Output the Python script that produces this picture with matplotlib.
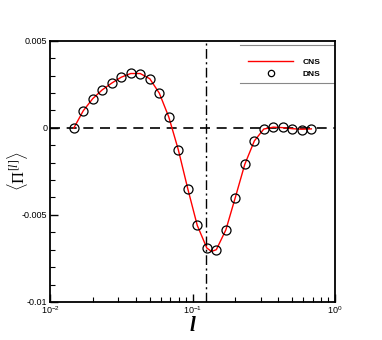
import matplotlib
matplotlib.use("Agg")
import matplotlib.pyplot as plt
from matplotlib.ticker import FixedLocator, LogLocator, NullFormatter

plt.rcParams['font.family'] = ['Liberation Sans', 'DejaVu Sans']
plt.rcParams['mathtext.fontset'] = 'custom'
plt.rcParams['mathtext.rm'] = 'Liberation Serif'
plt.rcParams['mathtext.it'] = 'Liberation Serif:italic'

# DNS samples
l_dns = [0.01466, 0.01710, 0.01995, 0.02323, 0.02710, 0.03162, 0.03683, 0.04295,
         0.05012, 0.05848, 0.06808, 0.07943, 0.09268, 0.1079, 0.1259, 0.1469,
         0.1714, 0.1995, 0.2328, 0.2716, 0.3162, 0.3690, 0.4305, 0.5023,
         0.5848, 0.6823]
pi_dns = [-0.00002, 0.00098, 0.00168, 0.00218, 0.00257, 0.00291, 0.00314, 0.00312,
          0.00280, 0.00199, 0.00063, -0.00125, -0.00351, -0.00559, -0.00688, -0.00699,
          -0.00586, -0.00401, -0.00209, -0.00075, -0.00007, 0.00007, 0.00002, -0.00006,
          -0.00010, -0.00006]

# CNS curve
l_cns = [0.01466, 0.01710, 0.01995, 0.02323, 0.02710, 0.03162, 0.03683, 0.04295,
         0.05012, 0.05848, 0.06808, 0.07943, 0.09268, 0.1079, 0.1259, 0.1358, 0.1469,
         0.1714, 0.1995, 0.2328, 0.2716, 0.3162, 0.3690, 0.4305, 0.5023,
         0.5848, 0.6823]
pi_cns = [-0.00002, 0.00098, 0.00168, 0.00218, 0.00257, 0.00291, 0.00312, 0.00312,
          0.00282, 0.00199, 0.00063, -0.00125, -0.00351, -0.00560, -0.00690, -0.00710, -0.00700,
          -0.00586, -0.00401, -0.00209, -0.00075, -0.00007, 0.00004, 0.00001, -0.00005,
          -0.00008, -0.00006]

l_marker = 0.1253
xlim = (0.01, 1.0)
ylim = (-0.01, 0.005)
yticks = [-0.01, -0.005, 0, 0.005]
ytick_labels = ['-0.01', '-0.005', '0', '0.005']

fig = plt.figure(figsize=(3.82, 3.40), dpi=100)
ax = fig.add_axes([0.131, 0.112, 0.746, 0.768])

ax.axhline(0, color='black', lw=1.2, ls=(0, (6, 4)), zorder=1)
ax.axvline(l_marker, color='black', lw=1.0, ls=(0, (7, 2.5, 1.5, 2.5)), zorder=1)

ax.plot(l_cns, pi_cns, color='red', lw=1.0, label='CNS', zorder=2)
ax.plot(l_dns, pi_dns, ls='none', marker='o', ms=6.5, mfc='none', mec='black',
        mew=0.9, label='DNS', zorder=3)

ax.set_xscale('log')
ax.set_xlim(*xlim)
ax.set_ylim(*ylim)
ax.set_yticks(yticks)
ax.set_yticklabels(ytick_labels)
ax.yaxis.set_minor_locator(FixedLocator([-0.009, -0.008, -0.007, -0.006, -0.004, -0.003,
                                         -0.002, -0.001, 0.001, 0.002, 0.003, 0.004]))
ax.xaxis.set_major_locator(LogLocator(base=10, numticks=5))
ax.xaxis.set_minor_locator(LogLocator(base=10, subs=range(2, 10), numticks=20))
ax.xaxis.set_minor_formatter(NullFormatter())

ax.tick_params(which='both', direction='in', top=False, right=False, labelsize=6.5, pad=2)
ax.tick_params(which='major', length=6, width=1.0)
ax.tick_params(which='minor', length=3.5, width=0.8)
for s in ax.spines.values():
    s.set_linewidth(1.3)

ax.set_xlabel('l', fontsize=15, fontstyle='italic', fontweight='bold',
              family='Liberation Serif', labelpad=0)
ax.set_ylabel(r'$\langle\Pi^{[l]}\rangle$', fontsize=12)
ax.yaxis.set_label_coords(-0.070, 0.5)

# legend
leg = ax.legend(loc='upper left', bbox_to_anchor=(0.683, 0.947), frameon=False,
                prop={'weight': 'bold', 'size': 6}, handlelength=5.4, markerscale=0.7,
                handletextpad=1.1, labelspacing=0.55, borderaxespad=0)
ax.plot([0.665, 0.995], [0.985, 0.985], transform=ax.transAxes, color='#888888', lw=0.8)
ax.plot([0.665, 0.995], [0.837, 0.837], transform=ax.transAxes, color='#888888', lw=0.8)

fig.savefig('out.png', dpi=100)
